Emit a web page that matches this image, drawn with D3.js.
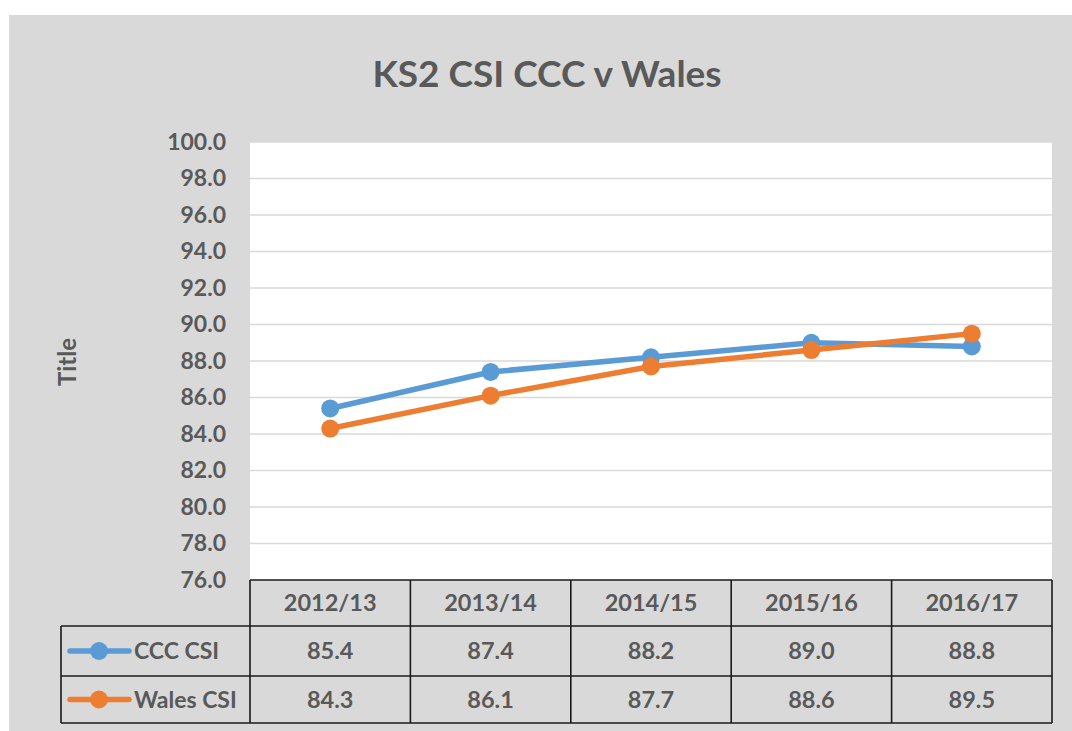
<!DOCTYPE html>
<html>
<head>
<meta charset="utf-8">
<script src="https://cdnjs.cloudflare.com/ajax/libs/d3/7.8.5/d3.min.js"></script>
<style>
  body { margin: 0; background: #fff; }
  svg text { font-family: Lato, "Open Sans", sans-serif; fill: #595959; }
</style>
</head>
<body>
<div id="chart"></div>
<script>
var years = ["2012/13", "2013/14", "2014/15", "2015/16", "2016/17"];
var cccValues = [85.4, 87.4, 88.2, 89.0, 88.8];
var walesValues = [84.3, 86.1, 87.7, 88.6, 89.5];
var seriesNames = ["CCC CSI", "Wales CSI"];
var seriesColors = ["#5b9bd5", "#ed7d31"];
var yTicks = [76, 78, 80, 82, 84, 86, 88, 90, 92, 94, 96, 98, 100];

var svgWidth = 1072;
var svgHeight = 731;

var plot = { left: 250, right: 1052, top: 142, bottom: 580 };
var tableLeft = 61;
var rowHeights = [46, 50, 47];

var svg = d3.select("#chart")
    .append("svg")
    .attr("width", svgWidth)
    .attr("height", svgHeight);

// grey chart panel
svg.append("rect")
    .attr("x", 9).attr("y", 15)
    .attr("width", svgWidth - 9).attr("height", svgHeight - 15)
    .attr("fill", "#d9d9d9");

svg.append("rect")
    .attr("x", plot.left).attr("y", plot.top)
    .attr("width", plot.right - plot.left).attr("height", plot.bottom - plot.top)
    .attr("fill", "#ffffff");

var x = d3.scaleBand()
    .domain(years)
    .range([plot.left, plot.right]);

var y = d3.scaleLinear()
    .domain([76, 100])
    .range([plot.bottom, plot.top]);

var cx = d => x(d) + x.bandwidth() / 2;

// gridlines
svg.append("g")
    .selectAll("line")
    .data(yTicks.slice(1))
    .enter()
    .append("line")
    .attr("x1", plot.left).attr("x2", plot.right)
    .attr("y1", d => y(d)).attr("y2", d => y(d))
    .attr("stroke", "#d9d9d9")
    .attr("stroke-width", 1.3);

// y axis labels
var leftAxis = d3.axisLeft(y)
    .tickValues(yTicks)
    .tickFormat(d3.format(".1f"))
    .tickSize(0)
    .tickPadding(24);

var yAxis = svg.append("g")
    .attr("transform", `translate(${plot.left}, 0)`)
    .call(leftAxis);

yAxis.select(".domain").remove();
yAxis.selectAll("text")
    .attr("font-size", "23px")
    .attr("font-weight", "bold")
    .attr("font-family", "Lato, sans-serif")
    .attr("fill", "#595959");

// title
svg.append("text")
    .attr("x", 547)
    .attr("y", 87)
    .attr("text-anchor", "middle")
    .attr("font-size", "37px")
    .attr("font-weight", "bold")
    .text("KS2 CSI CCC v Wales");

svg.append("text")
    .attr("transform", "translate(76, 362) rotate(-90)")
    .attr("text-anchor", "middle")
    .attr("font-size", "24px")
    .attr("font-weight", "bold")
    .text("Title");

// lines
var allSeries = [cccValues, walesValues];
var line = d3.line()
    .x((d, i) => cx(years[i]))
    .y(d => y(d));

allSeries.forEach(function(vals, s) {
    svg.append("path")
        .datum(vals)
        .attr("d", line)
        .attr("fill", "none")
        .attr("stroke", seriesColors[s])
        .attr("stroke-width", 5.5)
        .attr("stroke-linejoin", "round");

    svg.append("g")
        .selectAll("circle")
        .data(vals)
        .enter()
        .append("circle")
        .attr("cx", (d, i) => cx(years[i]))
        .attr("cy", d => y(d))
        .attr("r", 9)
        .attr("fill", seriesColors[s]);
});

// data table
var rowTops = [plot.bottom, plot.bottom + rowHeights[0], plot.bottom + rowHeights[0] + rowHeights[1]];
var tableBottom = rowTops[2] + rowHeights[2];
var table = svg.append("g");

function tLine(x1, y1, x2, y2) {
    table.append("line")
        .attr("x1", x1).attr("y1", y1).attr("x2", x2).attr("y2", y2)
        .attr("stroke", "#1a1a1a")
        .attr("stroke-width", 1.6);
}

tLine(plot.left, rowTops[0], plot.right, rowTops[0]);
tLine(tableLeft, rowTops[1], plot.right, rowTops[1]);
tLine(tableLeft, rowTops[2], plot.right, rowTops[2]);
tLine(tableLeft, tableBottom, plot.right, tableBottom);
tLine(tableLeft, rowTops[1], tableLeft, tableBottom);
years.forEach(function(yr) {
    tLine(x(yr), rowTops[0], x(yr), tableBottom);
});
tLine(plot.right, rowTops[0], plot.right, tableBottom);

table.selectAll(".hdr")
    .data(years)
    .enter()
    .append("text")
    .attr("x", d => cx(d))
    .attr("y", rowTops[0] + rowHeights[0] / 2)
    .attr("dy", "0.35em")
    .attr("text-anchor", "middle")
    .attr("font-size", "23.5px")
    .attr("font-weight", "bold")
    .text(d => d);

allSeries.forEach(function(vals, s) {
    var midY = rowTops[s + 1] + rowHeights[s + 1] / 2;
    table.selectAll(".val" + s)
        .data(vals)
        .enter()
        .append("text")
        .attr("x", (d, i) => cx(years[i]))
        .attr("y", midY)
        .attr("dy", "0.35em")
        .attr("text-anchor", "middle")
        .attr("font-size", "23.5px")
        .attr("font-weight", "bold")
        .text(d => d.toFixed(1));

    table.append("line")
        .attr("x1", 70).attr("x2", 129)
        .attr("y1", midY).attr("y2", midY)
        .attr("stroke", seriesColors[s])
        .attr("stroke-width", 5.5)
        .attr("stroke-linecap", "round");
    table.append("circle")
        .attr("cx", 99).attr("cy", midY)
        .attr("r", 9)
        .attr("fill", seriesColors[s]);
    table.append("text")
        .attr("x", 134)
        .attr("y", midY)
        .attr("dy", "0.35em")
        .attr("font-size", "23px")
        .attr("font-weight", "bold")
        .text(seriesNames[s]);
});
</script>
</body>
</html>
